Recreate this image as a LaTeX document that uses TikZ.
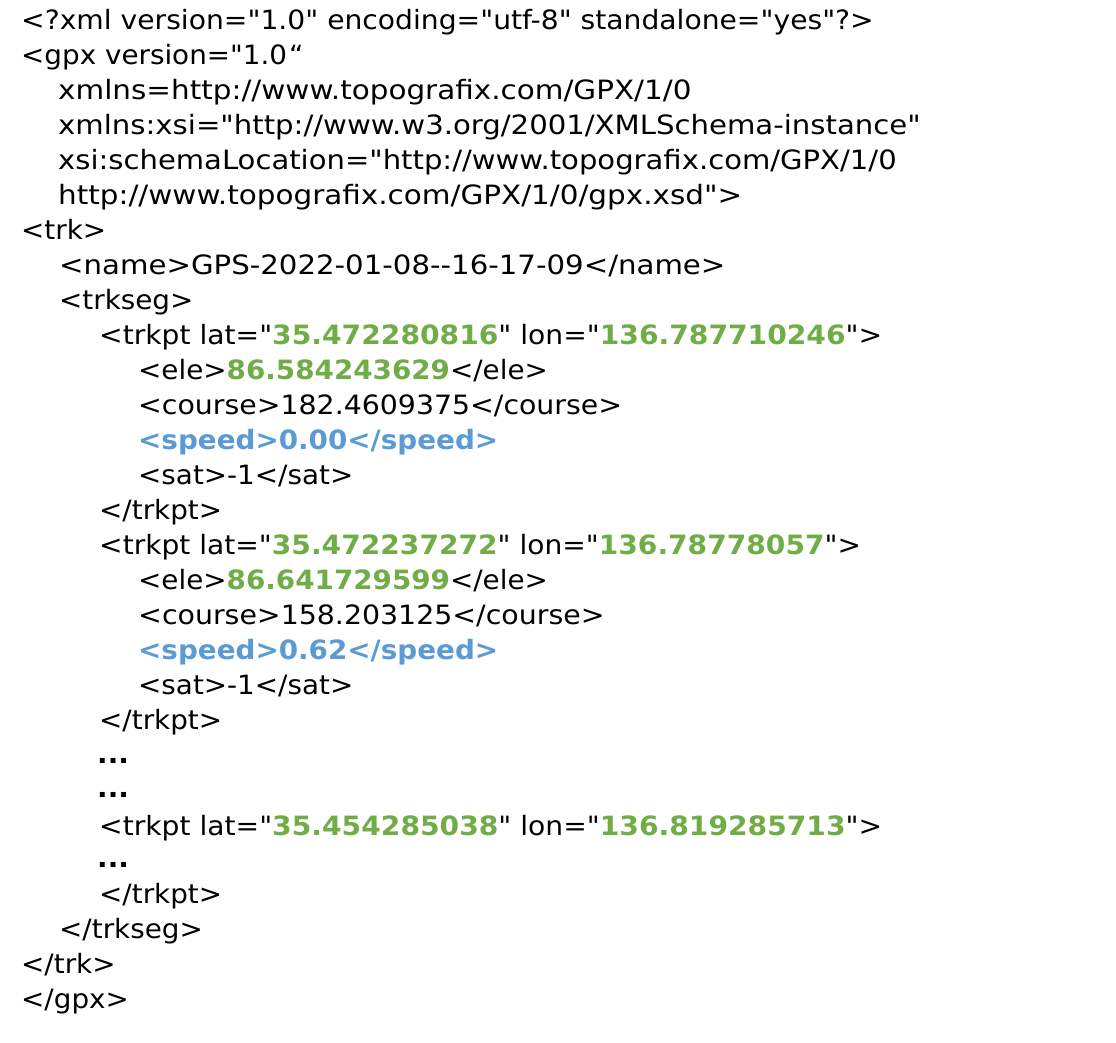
\documentclass[tikz,border=0pt]{standalone}
\usepackage{graphicx}
\usepackage{fontspec}
\setmonofont{DejaVu Sans}[FakeStretch=1.045]
\definecolor{gpxgreen}{HTML}{70AD47}
\definecolor{gpxblue}{HTML}{5B9BD5}
\tikzset{ln/.style={anchor=base west, inner sep=0pt, font=\ttfamily\fontsize{26.6}{30}\selectfont}}
\newcommand{\gv}[1]{\textcolor{gpxgreen}{\bfseries #1}}
\newcommand{\bv}[1]{\textcolor{gpxblue}{\bfseries #1}}
\newcommand{\sx}[2]{\scalebox{#1}[1]{#2}}
\begin{document}
\begin{tikzpicture}[x=1pt,y=-1pt]
\useasboundingbox (0,0) rectangle (1116,1042);
\fill[white] (0,0) rectangle (1116,1042);
\node[ln] (l1) at (21,29) {\sx{1.014}{<?xml version="1.0" encoding="utf-8" standalone="yes"?>}};
\node[ln] (l2) at (21,64) {<gpx version="1.0\hspace{2pt}“};
\node[ln] (l3) at (58,99) {\sx{1.059}{xmlns=http://www.topografix.com/GPX/1/0}};
\node[ln] (l4) at (58,134) {\sx{1.049}{xmlns:xsi="http://www.w3.org/2001/XMLSchema-instance"}};
\node[ln] (l5) at (58,169) {\sx{1.046}{xsi:schemaLocation="http://www.topografix.com/GPX/1/0}};
\node[ln] (l6) at (58,204) {\sx{1.059}{http://www.topografix.com/GPX/1/0/gpx.xsd">}};
\node[ln] (l7) at (21,239) {<trk>};
\node[ln] (l8) at (59,274) {\sx{1.051}{<name>GPS-2022-01-08--16-17-09</name>}};
\node[ln] (l9) at (59,309) {<trkseg>};
\node[ln] (l10) at (99,344) {\sx{1.013}{<trkpt lat="\gv{35.472280816}" lon="\gv{136.787710246}">}};
\node[ln] (l11) at (138,379) {<ele>\gv{86.584243629}</ele>};
\node[ln] (l12) at (138,414) {\sx{1.021}{<course>182.4609375</course>}};
\node[ln] (l13) at (138,449) {\bv{<speed>0.00</speed>}};
\node[ln] (l14) at (138,484) {<sat>-1</sat>};
\node[ln] (l15) at (99,519) {</trkpt>};
\node[ln] (l16) at (99,554) {\sx{1.011}{<trkpt lat="\gv{35.472237272}" lon="\gv{136.78778057}">}};
\node[ln] (l17) at (138,589) {<ele>\gv{86.641729599}</ele>};
\node[ln] (l18) at (138,624) {\sx{1.022}{<course>158.203125</course>}};
\node[ln] (l19) at (138,659) {\bv{<speed>0.62</speed>}};
\node[ln] (l20) at (138,694) {<sat>-1</sat>};
\node[ln] (l21) at (99,729) {</trkpt>};
\node[ln] (d1) at (97,763) {\bfseries ...};
\node[ln] (d2) at (97,797) {\bfseries ...};
\node[ln] (l24) at (99,835) {\sx{1.013}{<trkpt lat="\gv{35.454285038}" lon="\gv{136.819285713}">}};
\node[ln] (d3) at (97,867) {\bfseries ...};
\node[ln] (l26) at (99,903) {</trkpt>};
\node[ln] (l27) at (59,938) {</trkseg>};
\node[ln] (l28) at (21,973) {</trk>};
\node[ln] (l29) at (21,1008) {</gpx>};
\end{tikzpicture}
\end{document}
